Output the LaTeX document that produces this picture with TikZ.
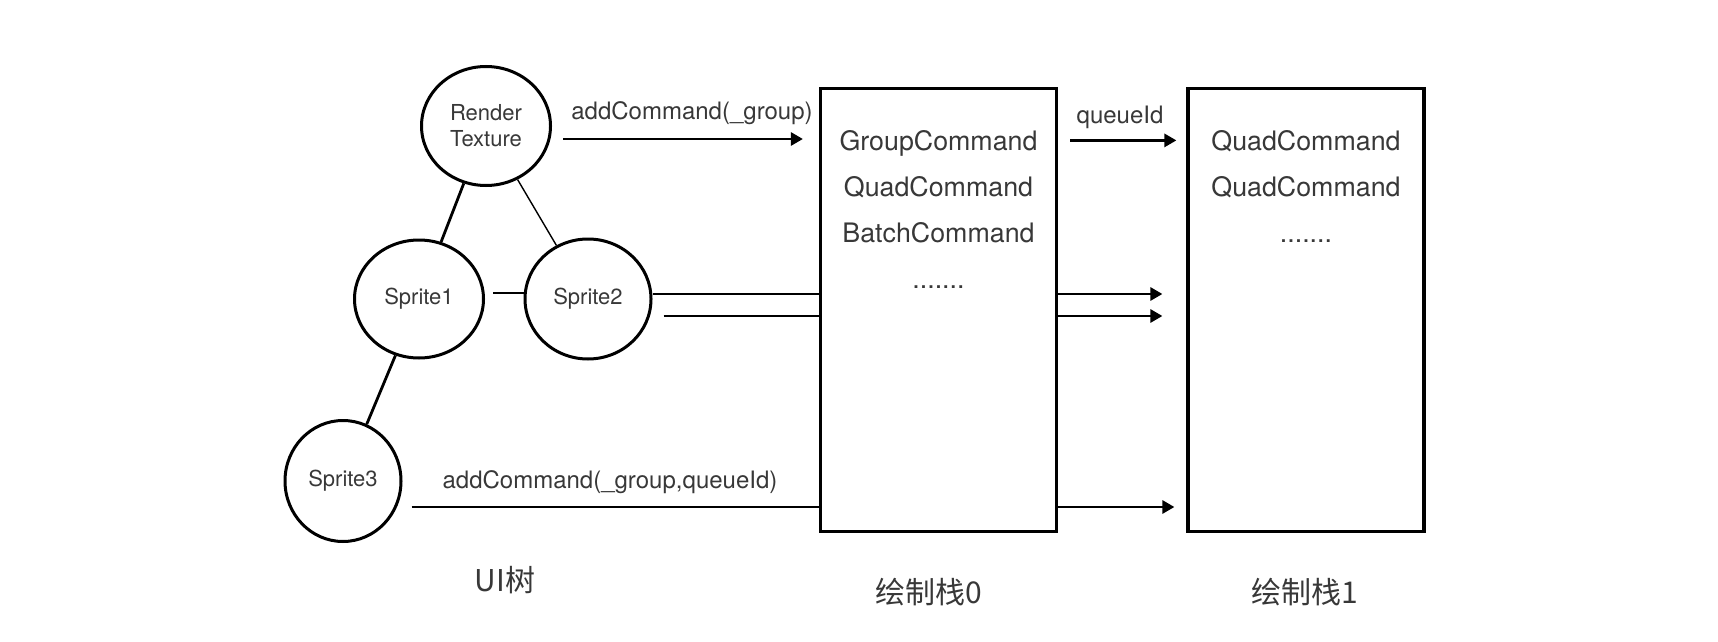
\documentclass[tikz,border=0pt]{standalone}
\usepackage{fontspec}
\setmainfont{TeX Gyre Heros}
\newfontfamily\cjk{Noto Sans CJK SC}
\usetikzlibrary{arrows.meta,shapes.geometric,positioning,calc}
\newcommand\rowdots{.......}
\tikzset{
  sp/.style   = { draw, ellipse, line width=1.5pt, inner sep=0pt, align=center,
    text=black!78, font=\fontsize{11}{13}\selectfont },
  stk/.style  = { draw, line width=1.6pt, minimum width=118pt, minimum height=221.5pt },
  cmd/.style  = { anchor=base, text=black!78, font=\fontsize{13.4}{16}\selectfont },
  lbl/.style  = { text=black!78, font=\fontsize{12}{14}\selectfont },
  ttl/.style  = { text=black!78, font=\cjk\fontsize{15}{18}\selectfont },
  ln/.style   = { line width=1.4pt },
  arr/.style  = { ln, -{Triangle[length=6pt,width=6.5pt]} }
}
\begin{document}
\begin{tikzpicture}[x=0.5pt,y=-0.5pt,node distance=183.75pt,on grid]
  \useasboundingbox (0,0) rectangle (1718,642);
  % UI tree
  \node[sp, minimum width=64.5pt, minimum height=59.5pt] (rt) at (486,126) {Render\\Texture};
  \node[sp, minimum width=64.5pt, minimum height=59pt] (s1) at (419,299) {Sprite1};
  \node[sp, minimum width=63pt, minimum height=60pt] (s2) at (588,299) {Sprite2};
  \node[sp, minimum width=58pt, minimum height=60.5pt] (s3) at (343,481) {Sprite3};
  \path[ln] (rt) edge (s1) (s1) edge (s3);
  \path[line width=0.7pt] (rt) edge (s2);
  \draw[ln] ([xshift=4pt,yshift=3pt]s1.east) -- ([yshift=3pt]s2.west);
  % stacks
  \node[stk] (st0) at (938.5,310) {};
  \node[stk, right=of st0] (st1) {};
  \foreach \t [count=\i] in {GroupCommand,QuadCommand,BatchCommand,\rowdots}
    \node[cmd] (c0\i) at (938.5,104+46*\i) {\t};
  \foreach \t [count=\i] in {QuadCommand,QuadCommand,\rowdots}
    \node[cmd] (c1\i) at (1306,104+46*\i) {\t};
  % commands
  \draw[arr, shorten <=5.5pt, shorten >=8pt] ($(rt.east)+(0,13)$) -- ($(rt.east -| st0.west)+(0,13)$);
  \node[lbl] (l0) at (692,113) {addCommand(\_group)};
  \draw[arr, shorten <=6pt, shorten >=5pt] ($(st0.north east)+(0,53.5)$) -- ($(st0.north east -| st1.west)+(0,53.5)$);
  \node[lbl] (l1) at (1120,117) {queueId};
  \draw[ln] ($(s2.east)+(0,-5)$) -- ($(s2.east -| st0.west)+(0,-5)$);
  \draw[ln] ($(s2.east)+(11,17)$) -- ($(s2.east -| st0.west)+(0,17)$);
  \draw[arr, shorten >=12pt] ($(s2.east -| st0.east)+(0,-5)$) -- ($(s2.east -| st1.west)+(0,-5)$);
  \draw[arr, shorten >=12pt] ($(s2.east -| st0.east)+(0,17)$) -- ($(s2.east -| st1.west)+(0,17)$);
  \draw[ln] ($(s3.east)+(9,26)$) -- ($(s3.east -| st0.west)+(0,26)$);
  \node[lbl] (l2) at (610,482) {addCommand(\_group,queueId)};
  \draw[arr, shorten >=6pt] ($(s3.east -| st0.east)+(0,26)$) -- ($(s3.east -| st1.west)+(0,26)$);
  % captions
  \node[ttl] (t0) at (505,580) {UI树};
  \node[ttl] (t1) at (929,592) {绘制栈0};
  \node[ttl] (t2) at (1305,592) {绘制栈1};
\end{tikzpicture}
\end{document}
